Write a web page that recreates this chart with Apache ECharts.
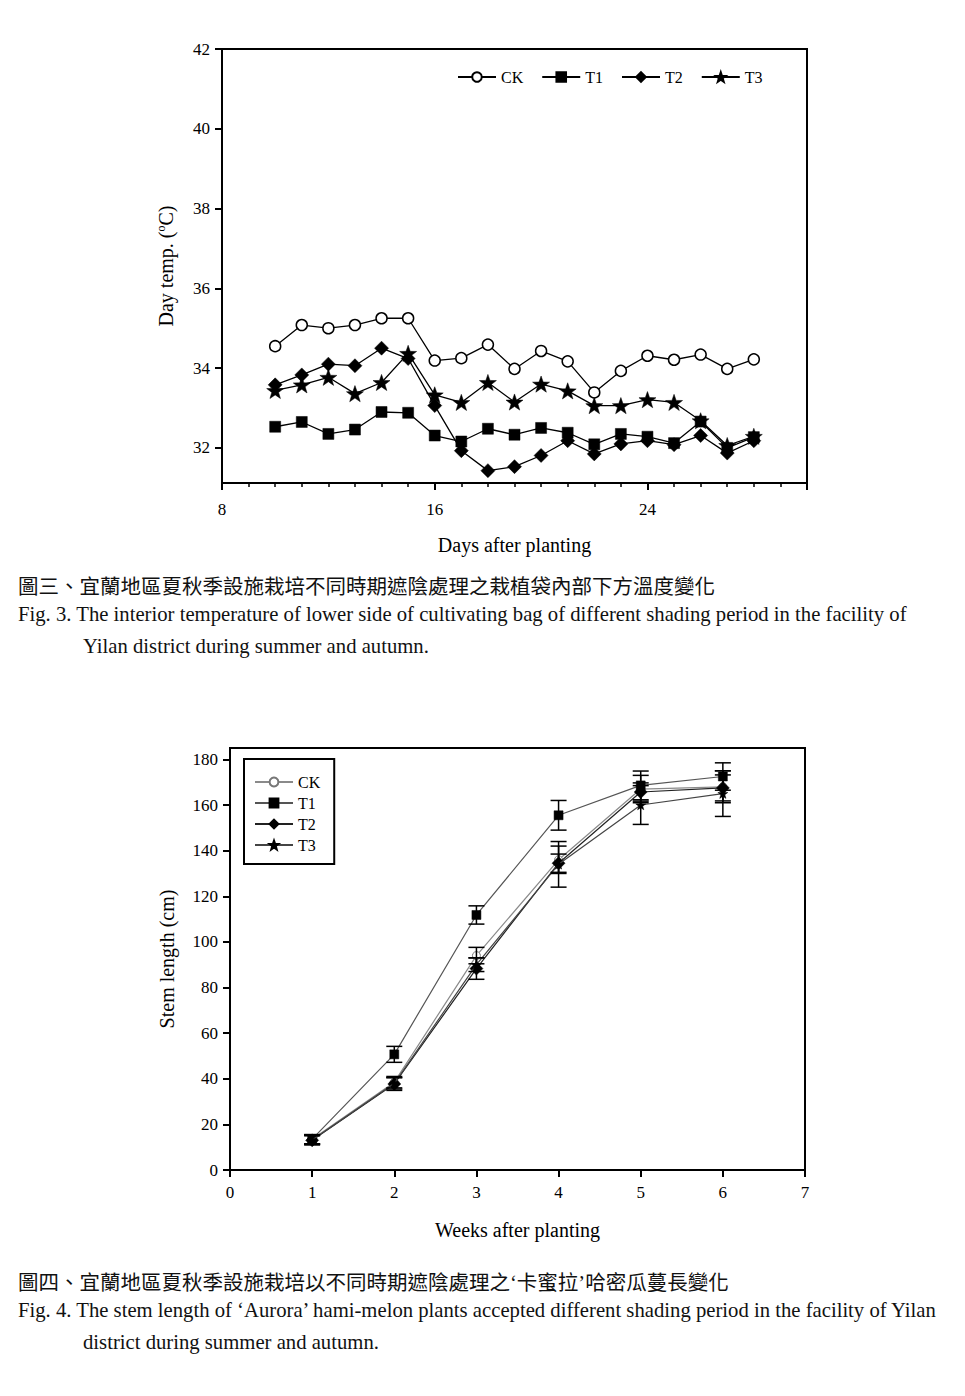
<!DOCTYPE html>
<html>
<head>
<meta charset="utf-8">
<script src="https://cdn.jsdelivr.net/npm/echarts@6/dist/echarts.min.js"></script>
<style>
html,body{margin:0;padding:0;background:#fff;width:965px;height:1396px;overflow:hidden;}
#c1{position:absolute;left:0;top:0;width:965px;height:560px;}
#c2{position:absolute;left:0;top:700px;width:965px;height:560px;}
.cap{position:absolute;white-space:nowrap;color:#111;font-size:20.7px;}
.zh{font-family:"Noto Sans CJK TC","Noto Sans CJK SC",sans-serif;font-size:20.5px;}
.en{font-family:"Liberation Serif","Times New Roman",serif;}
.q{font-family:"Liberation Serif","Times New Roman",serif;}
</style>
</head>
<body>
<div id="c1"></div>
<div id="c2"></div>
<div class="cap zh" style="left:18px;top:570px;">圖三、宜蘭地區夏秋季設施栽培不同時期遮陰處理之栽植袋內部下方溫度變化</div>
<div class="cap en" style="left:18px;top:603px;">Fig. 3. The interior temperature of lower side of cultivating bag of different shading period in the facility of</div>
<div class="cap en" style="left:83px;top:635px;">Yilan district during summer and autumn.</div>
<div class="cap zh" style="left:18px;top:1266px;">圖四、宜蘭地區夏秋季設施栽培以不同時期遮陰處理之<span class="q">‘</span>卡蜜拉<span class="q">’</span>哈密瓜蔓長變化</div>
<div class="cap en" style="left:18px;top:1299px;">Fig. 4. The stem length of ‘Aurora’ hami-melon plants accepted different shading period in the facility of Yilan</div>
<div class="cap en" style="left:83px;top:1331px;">district during summer and autumn.</div>
<script>
// ---------- Figure 3 data ----------
const days = [10,11,12,13,14,15,16,17,18,19,20,21,22,23,24,25,26,27,28];
const tempCK = [34.55,35.08,35.0,35.08,35.25,35.25,34.19,34.25,34.59,33.98,34.43,34.17,33.39,33.93,34.31,34.21,34.34,33.98,34.22];
const tempT1 = [32.53,32.65,32.35,32.46,32.9,32.88,32.31,32.16,32.48,32.33,32.5,32.38,32.09,32.35,32.28,32.12,32.66,32.0,32.27];
const tempT2 = [33.58,33.83,34.1,34.06,34.5,34.24,33.06,31.93,31.43,31.53,31.81,32.18,31.85,32.1,32.18,32.08,32.31,31.87,32.18];
const tempT3 = [33.44,33.58,33.77,33.36,33.64,34.37,33.33,33.14,33.64,33.15,33.6,33.43,33.06,33.06,33.21,33.14,32.68,32.06,32.29];
const tempTicks = [32,34,36,38,40,42];

// ---------- Figure 4 data ----------
const weeks = [1,2,3,4,5,6];
const stemCK = [13.5,38.5,94,136,167,168];
const stemT1 = [13.5,50.7,111.8,155.5,168.6,172.5];
const stemT2 = [13,37.7,88.3,134.5,165.7,167.5];
const stemT3 = [13.2,38,90,134,160,165];
const errCK = [2,2.5,3.6,6,6,7];
const errT1 = [2,3.5,4,6.5,6.3,6];
const errT2 = [2,2.8,4.7,4,4,5.7];
const errT3 = [2,2.5,3,10,8.5,10];
const stemTicks = [0,20,40,60,80,100,120,140,160,180];

const names = ['CK','T1','T2','T3'];
const STAR = 'path://M0,-10 L2.35,-3.24 L9.51,-3.09 L3.8,1.24 L5.88,8.09 L0,4 L-5.88,8.09 L-3.8,1.24 L-9.51,-3.09 L-2.35,-3.24 Z';
const SERIF = '"Liberation Serif","Times New Roman",serif';

function pairs(xs, ys){ return xs.map((x,i)=>[x, ys[i]]); }

// ---------- Chart 1 ----------
const c1 = echarts.init(document.getElementById('c1'), null, {renderer:'svg'});
const sym1 = [
  {symbol:'circle', size:11, color:'#fff'},
  {symbol:'rect', size:11, color:'#000'},
  {symbol:'diamond', size:14, color:'#000'},
  {symbol:STAR, size:17, color:'#000'}
];
const t1Data = [tempCK,tempT1,tempT2,tempT3];
c1.setOption({
  animation:false,
  backgroundColor:'#fff',
  textStyle:{fontFamily:SERIF, color:'#000'},
  grid:{left:222, top:49, width:585, height:435, show:true, borderColor:'#000', borderWidth:2},
  legend:{
    data:names, orient:'horizontal', left:452, top:64, itemWidth:38, itemHeight:12, itemGap:18,
    textStyle:{fontFamily:SERIF, fontSize:16, color:'#000'}
  },
  xAxis:{
    type:'value', min:8, max:30, interval:8,
    name:'Days after planting', nameLocation:'middle', nameGap:52,
    nameTextStyle:{fontFamily:SERIF, fontSize:20, color:'#000'},
    axisLine:{show:true, lineStyle:{color:'#000', width:2}},
    axisTick:{show:true, length:7, lineStyle:{color:'#000', width:2}},
    minorTick:{show:true, splitNumber:8, length:4, lineStyle:{color:'#000', width:1.5}},
    axisLabel:{fontFamily:SERIF, fontSize:17, color:'#000', margin:18,
      formatter:v=> (v===30? '' : String(v))},
    splitLine:{show:false}
  },
  yAxis:{
    type:'value', min:31.12, max:42,
    name:'{n|Day temp. (}{s|o}{n|C)}', nameLocation:'middle', nameGap:46, nameRotate:90,
    nameTextStyle:{rich:{n:{fontFamily:SERIF, fontSize:20, color:'#000'}, s:{fontFamily:SERIF, fontSize:12, color:'#000', verticalAlign:'bottom', padding:[0,0,9,0]}}},
    axisLine:{show:true, lineStyle:{color:'#000', width:2}},
    axisTick:{show:true, length:7, customValues:tempTicks, lineStyle:{color:'#000', width:2}},
    axisLabel:{fontFamily:SERIF, fontSize:17, color:'#000', margin:12, customValues:tempTicks},
    splitLine:{show:false}
  },
  series: names.map((n,i)=>({
    name:n, type:'line', data:pairs(days, t1Data[i]),
    symbol:sym1[i].symbol, symbolSize:sym1[i].size, symbolKeepAspect:true,
    showAllSymbol:true,
    lineStyle:{color:'#000', width:1.3},
    itemStyle:{color:sym1[i].color, borderColor:'#000', borderWidth:(i===0?1.5:0.5)},
    z: 3+i
  }))
});

// ---------- Chart 2 ----------
const c2 = echarts.init(document.getElementById('c2'), null, {renderer:'svg'});
const sym2 = [
  {symbol:'circle', size:8, color:'#fff', line:'#8a8a8a', border:'#777'},
  {symbol:'rect', size:9, color:'#000', line:'#555', border:'#000'},
  {symbol:'diamond', size:13, color:'#000', line:'#222', border:'#000'},
  {symbol:STAR, size:10, color:'#000', line:'#444', border:'#000'}
];
const s2Data = [stemCK,stemT1,stemT2,stemT3];
const e2Data = [errCK,errT1,errT2,errT3];

function errSeries(i){
  return {
    name:names[i]+'-err', type:'custom', z:10,
    data: weeks.map((w,k)=>[w, s2Data[i][k], e2Data[i][k]]),
    renderItem:(params, api)=>{
      const x = api.value(0), y = api.value(1), e = api.value(2);
      const top = api.coord([x, y+e]);
      const bot = api.coord([x, y-e]);
      const hw = 8;
      const st = {stroke:'#000', lineWidth:1.5};
      return {type:'group', children:[
        {type:'line', shape:{x1:top[0], y1:top[1], x2:bot[0], y2:bot[1]}, style:st},
        {type:'line', shape:{x1:top[0]-hw, y1:top[1], x2:top[0]+hw, y2:top[1]}, style:st},
        {type:'line', shape:{x1:bot[0]-hw, y1:bot[1], x2:bot[0]+hw, y2:bot[1]}, style:st}
      ]};
    }
  };
}

c2.setOption({
  animation:false,
  backgroundColor:'#fff',
  textStyle:{fontFamily:SERIF, color:'#000'},
  grid:{left:230, top:48, width:575, height:422, show:true, borderColor:'#000', borderWidth:2},
  legend:{
    data:names, orient:'vertical', left:244, top:59, itemWidth:38, itemHeight:11, itemGap:5,
    padding:[15,14,11,10], borderColor:'#000', borderWidth:2,
    textStyle:{fontFamily:SERIF, fontSize:16, color:'#000'}
  },
  xAxis:{
    type:'value', min:0, max:7, interval:1,
    name:'Weeks after planting', nameLocation:'middle', nameGap:50,
    nameTextStyle:{fontFamily:SERIF, fontSize:20, color:'#000'},
    axisLine:{show:true, lineStyle:{color:'#000', width:2}},
    axisTick:{show:true, length:7, lineStyle:{color:'#000', width:2}},
    axisLabel:{fontFamily:SERIF, fontSize:17, color:'#000', margin:14},
    splitLine:{show:false}
  },
  yAxis:{
    type:'value', min:0, max:185,
    name:'Stem length (cm)', nameLocation:'middle', nameGap:53, nameRotate:90,
    nameTextStyle:{fontFamily:SERIF, fontSize:20, color:'#000'},
    axisLine:{show:true, lineStyle:{color:'#000', width:2}},
    axisTick:{show:true, length:7, customValues:stemTicks, lineStyle:{color:'#000', width:2}},
    axisLabel:{fontFamily:SERIF, fontSize:17, color:'#000', margin:12, customValues:stemTicks},
    splitLine:{show:false}
  },
  series: names.map((n,i)=>({
    name:n, type:'line', data:pairs(weeks, s2Data[i]),
    symbol:sym2[i].symbol, symbolSize:sym2[i].size, symbolKeepAspect:true,
    showAllSymbol:true,
    lineStyle:{color:sym2[i].line, width:1.2},
    itemStyle:{color:sym2[i].color, borderColor:sym2[i].border, borderWidth:(i===0?1:0.5)},
    z: 3+i
  })).concat(names.map((n,i)=>errSeries(i)))
});
</script>
</body>
</html>
